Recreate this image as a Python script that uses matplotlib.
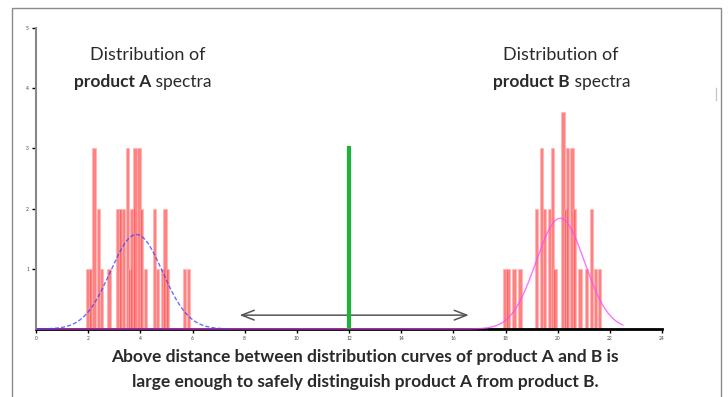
#distance between the spectra distributions of product A and product B

import numpy as np
import matplotlib.pyplot as plt
from matplotlib.patches import Rectangle

plt.rcParams['font.family'] = ['Lato', 'DejaVu Sans']

#histogram bars of product A (position, count)
a_pos = [2.0, 2.1, 2.23, 2.4, 2.5, 2.8, 3.15, 3.25, 3.35, 3.5, 3.58, 3.68, 3.8, 3.95, 4.05, 4.2,
         4.55, 4.65, 4.85, 4.95, 5.05, 5.7, 5.85]
a_cnt = [1, 1, 3, 2, 1, 1, 2, 2, 2, 3, 1, 2, 3, 3, 2, 1, 2, 1, 1, 2, 1, 1, 1]

#histogram bars of product B
b_pos = [17.98, 18.1, 18.32, 18.55, 19.2, 19.38, 19.5, 19.68, 19.8, 19.9, 20.2, 20.3, 20.38,
         20.55, 20.65, 20.85, 21.1, 21.3, 21.45, 21.6]
b_cnt = [1, 1, 1, 1, 2, 3, 2, 2, 3, 1, 3.6, 2, 3, 3, 2, 1, 1, 2, 1, 1]

#fitted normal curves (mean, sigma, peak height)
a_fit = (3.85, 1.0, 1.57)
b_fit = (20.1, 0.93, 1.84)

#threshold and gap arrow
threshold = 12
threshold_height = 3
gap = (7.7, 16.7)

x_ticks = list(range(0, 25, 2))
y_ticks = [1, 2, 3, 4, 5]

fig = plt.figure(figsize=(7.28, 3.97), dpi=100)

#outer frame
fig.patches.append(Rectangle((12 / 728, -0.05), 709 / 728, 1.05 - 8 / 397,
                             transform=fig.transFigure, fill=False,
                             edgecolor='#8a8a8a', lw=1))
fig.add_artist(plt.Line2D([716 / 728, 716 / 728], [1 - 100 / 397, 1 - 88 / 397],
                          color='#c8c8c8', lw=1))

ax = fig.add_axes([36 / 728, 1 - 329 / 397, 626 / 728, 301 / 397])
ax.set_xlim(0, 24)
ax.set_ylim(0, 5)

for p, c in zip(a_pos, a_cnt):
    ax.bar(p, c, width=0.13, color=(1, 0.1, 0.1, 0.55), edgecolor=(1, 0.7, 0.7, 0.7), lw=0.8)
for p, c in zip(b_pos, b_cnt):
    ax.bar(p, c, width=0.13, color=(1, 0.1, 0.1, 0.55), edgecolor=(1, 0.7, 0.7, 0.7), lw=0.8)

xb = np.linspace(0, 22.5, 500)
m, s, h = b_fit
ax.plot(xb, h * np.exp(-(xb - m) ** 2 / (2 * s ** 2)), color='#ff44ff', lw=1.0, alpha=0.75,
        clip_on=False, zorder=3)
xa = np.linspace(0, 7.4, 300)
m, s, h = a_fit
ax.plot(xa, h * np.exp(-(xa - m) ** 2 / (2 * s ** 2)), color='#3344ff', lw=1.0, alpha=0.75,
        ls=(0, (3, 1.5)), clip_on=False, zorder=4)

#threshold line and gap arrow
ax.plot([threshold, threshold], [0, threshold_height], color='#1db33b', lw=3, zorder=5)
ax.annotate('', xy=(gap[0], 0.23), xytext=(gap[1], 0.23),
            arrowprops=dict(arrowstyle='<->,head_length=0.9,head_width=0.35',
                            color='#555555', lw=1.1))

#axes look
for side in ['top', 'right']:
    ax.spines[side].set_visible(False)
ax.spines['left'].set_color('#888888')
ax.spines['left'].set_linewidth(1.5)
ax.spines['bottom'].set_color('black')
ax.spines['bottom'].set_linewidth(2)
ax.spines['bottom'].set_zorder(1)
ax.set_xticks(x_ticks)
ax.set_xticklabels([str(t) for t in x_ticks])
ax.set_yticks(y_ticks)
ax.set_yticklabels([str(t) for t in y_ticks])
ax.tick_params(axis='both', labelsize=3.5, length=3, width=1, color='black', pad=2,
               labelcolor='#444444')
ax.set_facecolor('none')

#labels
fs = 12.5
fig.text(148 / 728, 1 - 55 / 397, 'Distribution of', ha='center', va='center',
         fontsize=fs + 0.5, color='#2a2a2a')
fig.text(151 / 728, 1 - 82 / 397, 'product A', ha='right', va='center',
         fontsize=fs, fontweight='bold', color='#2a2a2a')
fig.text(151 / 728, 1 - 82 / 397, ' spectra', ha='left', va='center',
         fontsize=fs, color='#2a2a2a')
fig.text(561 / 728, 1 - 55 / 397, 'Distribution of', ha='center', va='center',
         fontsize=fs + 0.5, color='#2a2a2a')
fig.text(570 / 728, 1 - 82 / 397, 'product B', ha='right', va='center',
         fontsize=fs, fontweight='bold', color='#2a2a2a')
fig.text(570 / 728, 1 - 82 / 397, ' spectra', ha='left', va='center',
         fontsize=fs, color='#2a2a2a')

fig.text(365 / 728, 1 - 357 / 397,
         'Above distance between distribution curves of product A and B is',
         ha='center', va='center', fontsize=fs, fontweight='bold', color='#2a2a2a')
fig.text(365 / 728, 1 - 382 / 397,
         'large enough to safely distinguish product A from product B.',
         ha='center', va='center', fontsize=fs, fontweight='bold', color='#2a2a2a')

fig.savefig('out.png', dpi=100)
